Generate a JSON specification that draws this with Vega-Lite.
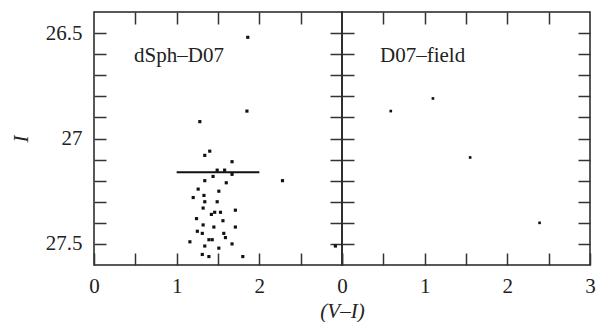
{
  "$schema": "https://vega.github.io/schema/vega-lite/v6.json",
  "padding": {"left": 9, "top": 10, "right": 0, "bottom": 0},
  "background": "white",
  "spacing": 0,
  "bounds": "flush",
  "config": {
    "view": {"stroke": "#222", "strokeWidth": 1.5},
    "font": "Liberation Serif",
    "axis": {
      "domain": false, "grid": false, "ticks": true, "tickSize": -12, "tickColor": "#333", "tickWidth": 1.5,
      "labelFont": "Liberation Serif", "labelFontSize": 21, "labelColor": "#222",
      "titleFont": "Liberation Serif", "titleFontSize": 21, "titleFontStyle": "italic", "titleFontWeight": "normal", "titleColor": "#222",
      "labelFlush": false, "labelOverlap": false
    },
    "axisX": {"labelPadding": 22},
    "axisY": {"labelPadding": 24}
  },
  "datasets": {
    "dsph": [
      {"vi": 1.86, "I": 26.52}, {"vi": 1.85, "I": 26.87}, {"vi": 1.28, "I": 26.92}, {"vi": 1.40, "I": 27.06},
      {"vi": 1.34, "I": 27.08}, {"vi": 1.67, "I": 27.11}, {"vi": 1.49, "I": 27.15}, {"vi": 1.58, "I": 27.15},
      {"vi": 1.44, "I": 27.18}, {"vi": 1.67, "I": 27.17}, {"vi": 1.34, "I": 27.20}, {"vi": 1.60, "I": 27.21},
      {"vi": 2.28, "I": 27.20}, {"vi": 1.26, "I": 27.24}, {"vi": 1.51, "I": 27.25}, {"vi": 1.33, "I": 27.27},
      {"vi": 1.20, "I": 27.28}, {"vi": 1.34, "I": 27.30}, {"vi": 1.49, "I": 27.30}, {"vi": 1.32, "I": 27.33},
      {"vi": 1.71, "I": 27.34}, {"vi": 1.46, "I": 27.35}, {"vi": 1.53, "I": 27.35}, {"vi": 1.42, "I": 27.36},
      {"vi": 1.24, "I": 27.38}, {"vi": 1.56, "I": 27.39}, {"vi": 1.32, "I": 27.41}, {"vi": 1.45, "I": 27.42},
      {"vi": 1.71, "I": 27.42}, {"vi": 1.25, "I": 27.44}, {"vi": 1.31, "I": 27.45}, {"vi": 1.57, "I": 27.45},
      {"vi": 1.59, "I": 27.47}, {"vi": 1.39, "I": 27.48}, {"vi": 1.43, "I": 27.48}, {"vi": 1.16, "I": 27.49},
      {"vi": 1.67, "I": 27.50}, {"vi": 1.34, "I": 27.51}, {"vi": 1.51, "I": 27.52}, {"vi": 1.31, "I": 27.55},
      {"vi": 1.39, "I": 27.56}, {"vi": 1.80, "I": 27.56}, {"vi": 2.92, "I": 27.51}
    ],
    "field": [
      {"vi": 0.59, "I": 26.87}, {"vi": 1.10, "I": 26.81}, {"vi": 1.55, "I": 27.09}, {"vi": 2.39, "I": 27.40}
    ],
    "level": [
      {"vi_start": 1.0, "vi_end": 2.0, "I": 27.16}
    ]
  },
  "hconcat": [
    {
      "width": 248, "height": 253,
      "layer": [
        {
          "data": {"name": "dsph"},
          "mark": {"type": "point", "shape": "square", "filled": true, "size": 10, "color": "#111", "opacity": 1},
          "encoding": {
            "x": {"field": "vi", "type": "quantitative",
              "scale": {"domain": [0, 3], "nice": false, "zero": false},
              "axis": {"orient": "bottom", "values": [0, 0.5, 1, 1.5, 2, 2.5, 3],
                "labelExpr": "(datum.value % 1 === 0 && datum.value < 3) ? '' + datum.value : ''",
                "title": "(V–I)", "titleX": 248, "titleAlign": "center", "titlePadding": 4}},
            "y": {"field": "I", "type": "quantitative",
              "scale": {"domain": [26.4, 27.6], "reverse": true, "nice": false, "zero": false},
              "axis": {"orient": "left", "title": "I", "titlePadding": 14,
                "values": [26.5, 26.6, 26.7, 26.8, 26.9, 27, 27.1, 27.2, 27.3, 27.4, 27.5],
                "labelExpr": "datum.value === 26.5 ? '26.5' : (datum.value === 27 ? '27' : (datum.value === 27.5 ? '27.5' : ''))"}}
          }
        },
        {
          "data": {"name": "dsph"},
          "mark": {"type": "point", "shape": "square", "filled": true, "size": 10, "color": "#111", "opacity": 0},
          "encoding": {
            "x": {"field": "vi", "type": "quantitative",
              "axis": {"orient": "top", "values": [0.5, 1, 1.5, 2, 2.5], "labels": false, "title": null}},
            "y": {"field": "I", "type": "quantitative",
              "axis": {"orient": "right", "values": [26.5, 26.6, 26.7, 26.8, 26.9, 27, 27.1, 27.2, 27.3, 27.4, 27.5], "labels": false, "title": null}}
          }
        },
        {
          "data": {"name": "level"},
          "mark": {"type": "rule", "color": "#111", "strokeWidth": 2},
          "encoding": {
            "x": {"field": "vi_start", "type": "quantitative", "axis": null},
            "x2": {"field": "vi_end"},
            "y": {"field": "I", "type": "quantitative", "axis": null}
          }
        },
        {
          "data": {"values": [{"label": "dSph–D07"}]},
          "mark": {"type": "text", "align": "left", "baseline": "middle", "font": "Liberation Serif", "fontSize": 21, "color": "#222"},
          "encoding": {
            "x": {"datum": 0.485, "type": "quantitative", "axis": null},
            "y": {"datum": 26.61, "type": "quantitative", "axis": null},
            "text": {"field": "label"}
          }
        }
      ],
      "resolve": {"axis": {"x": "independent", "y": "independent"}}
    },
    {
      "width": 248, "height": 253,
      "layer": [
        {
          "data": {"name": "field"},
          "mark": {"type": "point", "shape": "square", "filled": true, "size": 7, "color": "#111", "opacity": 1},
          "encoding": {
            "x": {"field": "vi", "type": "quantitative",
              "scale": {"domain": [0, 3], "nice": false, "zero": false},
              "axis": {"orient": "bottom", "values": [0, 0.5, 1, 1.5, 2, 2.5, 3],
                "labelExpr": "(datum.value % 1 === 0) ? '' + datum.value : ''", "title": null}},
            "y": {"field": "I", "type": "quantitative",
              "scale": {"domain": [26.4, 27.6], "reverse": true, "nice": false, "zero": false},
              "axis": {"orient": "left", "labels": false, "title": null,
                "values": [26.5, 26.6, 26.7, 26.8, 26.9, 27, 27.1, 27.2, 27.3, 27.4, 27.5]}}
          }
        },
        {
          "data": {"name": "field"},
          "mark": {"type": "point", "shape": "square", "filled": true, "size": 7, "color": "#111", "opacity": 0},
          "encoding": {
            "x": {"field": "vi", "type": "quantitative",
              "axis": {"orient": "top", "values": [0.5, 1, 1.5, 2, 2.5], "labels": false, "title": null}},
            "y": {"field": "I", "type": "quantitative",
              "axis": {"orient": "right", "values": [26.5, 26.6, 26.7, 26.8, 26.9, 27, 27.1, 27.2, 27.3, 27.4, 27.5], "labels": false, "title": null}}
          }
        },
        {
          "data": {"values": [{"label": "D07–field"}]},
          "mark": {"type": "text", "align": "left", "baseline": "middle", "font": "Liberation Serif", "fontSize": 21, "color": "#222"},
          "encoding": {
            "x": {"datum": 0.46, "type": "quantitative", "axis": null},
            "y": {"datum": 26.61, "type": "quantitative", "axis": null},
            "text": {"field": "label"}
          }
        }
      ],
      "resolve": {"axis": {"x": "independent", "y": "independent"}}
    }
  ]
}
